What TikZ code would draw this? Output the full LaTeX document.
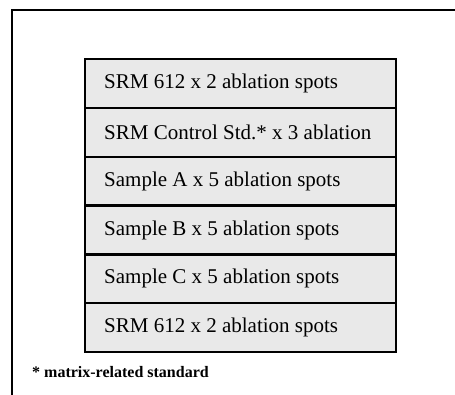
\documentclass[tikz,border=0pt]{standalone}
\usepackage{fontspec}
\setmainfont{Liberation Serif}
\definecolor{rowfill}{HTML}{E9E9E9}
\begin{document}
\begin{tikzpicture}[x=1pt,y=-1pt,
  rowbox/.style={draw=black, line width=2.4pt, fill=rowfill, minimum width=311pt, minimum height=48.8pt, inner sep=0pt, anchor=north west},
  rowtext/.style={anchor=west, inner sep=0pt, font=\fontsize{21}{24}\selectfont},
  foot/.style={anchor=base west, inner sep=0pt, font=\fontsize{16}{18}\selectfont\bfseries}]
\useasboundingbox (0,0) rectangle (455,395);
\coordinate (fr) at (455,10);
\coordinate (fc) at (12,10);
\coordinate (fb) at (12,395);
\draw[line width=2pt] (fr) -- (fc) -- (fb);
\foreach \i/\t in {1/{SRM 612 x 2 ablation spots},
                   2/{SRM Control Std.* x 3 ablation},
                   3/{Sample A x 5 ablation spots},
                   4/{Sample B x 5 ablation spots},
                   5/{Sample C x 5 ablation spots},
                   6/{SRM 612 x 2 ablation spots}}{
  \node[rowbox] (r\i) at (84,{58+(\i-1)*48.8}) {};
  \node[rowtext] (t\i) at ([xshift=20pt]r\i.west) {\t};
}
\node[foot] (fn) at (32,377) {* matrix-related standard};
\end{tikzpicture}
\end{document}
